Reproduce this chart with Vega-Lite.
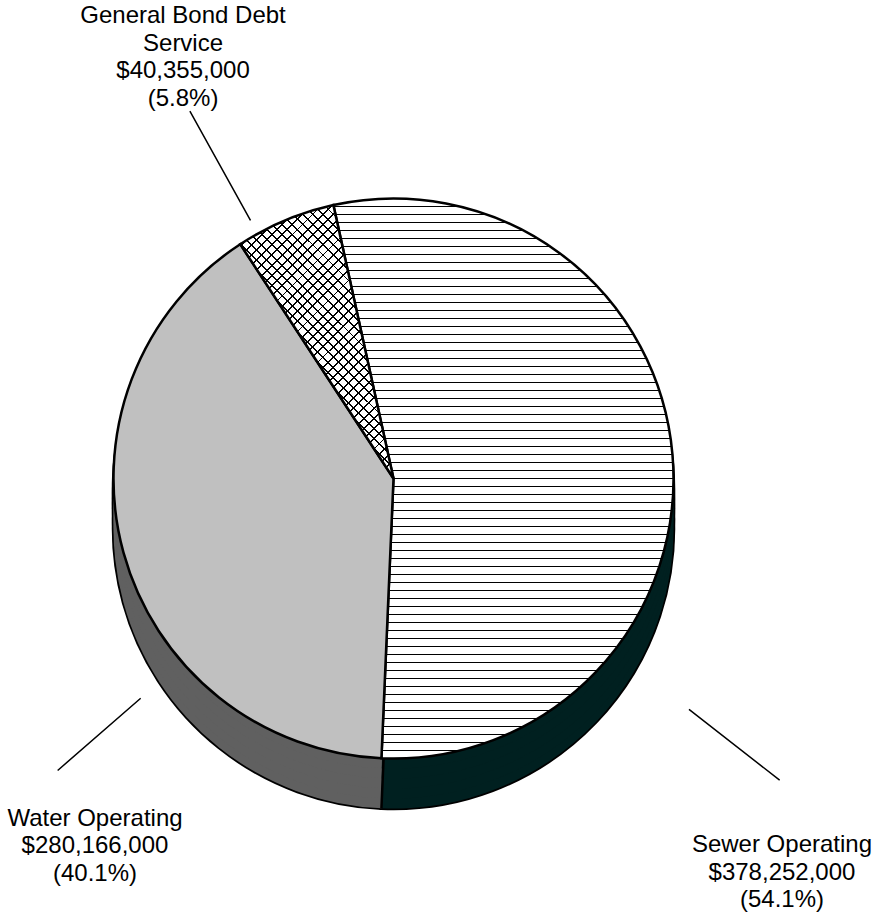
{
  "$schema": "https://vega.github.io/schema/vega-lite/v6.json",
  "autosize": {"type": "none"},
  "padding": {"left": 0, "top": 44, "right": 88, "bottom": 0},
  "width": 787,
  "height": 869,
  "background": "#ffffff",
  "config": {"view": {"stroke": null}},
  "data": {
    "values": [
      {"category": "Sewer Operating", "name": "Sewer Operating", "amount": 378252000, "order": 1},
      {"category": "Water Operating", "name": "Water Operating", "amount": 280166000, "order": 2},
      {"category": "General Bond Debt Service", "name": "General Bond Debt\nService", "amount": 40355000, "order": 3}
    ]
  },
  "transform": [
    {"joinaggregate": [{"op": "sum", "field": "amount", "as": "total"}]},
    {"stack": "amount", "groupby": [], "sort": [{"field": "order", "order": "ascending"}], "as": ["a0", "a1"]}
  ],
  "layer": [
    {
      "encoding": {
        "theta": {"field": "a0", "type": "quantitative", "stack": null, "scale": {"domain": [0, 698773000], "range": [-0.216421, 6.066764], "nice": false, "zero": false}},
        "theta2": {"field": "a1"}
      },
      "layer": [
        {"mark": {"type": "arc", "radius": 280, "yOffset": 50, "fill": "#000", "stroke": "#000", "strokeWidth": 3.5}},
        {"mark": {"type": "arc", "radius": 280, "yOffset": 40, "fill": "#000", "stroke": "#000", "strokeWidth": 3.5}},
        {"mark": {"type": "arc", "radius": 280, "yOffset": 30, "fill": "#000", "stroke": "#000", "strokeWidth": 3.5}},
        {"mark": {"type": "arc", "radius": 280, "yOffset": 20, "fill": "#000", "stroke": "#000", "strokeWidth": 3.5}},
        {"mark": {"type": "arc", "radius": 280, "yOffset": 10, "fill": "#000", "stroke": "#000", "strokeWidth": 3.5}},
        {"mark": {"type": "arc", "radius": 280, "yOffset": 50, "strokeWidth": 0},
         "encoding": {"fill": {"field": "category", "type": "nominal", "legend": null, "scale": {"domain": ["Sewer Operating", "Water Operating", "General Bond Debt Service"], "range": ["#002020", "#606060", "#808080"]}}}},
        {"mark": {"type": "arc", "radius": 280, "yOffset": 40, "strokeWidth": 0},
         "encoding": {"fill": {"field": "category", "type": "nominal", "legend": null}}},
        {"mark": {"type": "arc", "radius": 280, "yOffset": 30, "strokeWidth": 0},
         "encoding": {"fill": {"field": "category", "type": "nominal", "legend": null}}},
        {"mark": {"type": "arc", "radius": 280, "yOffset": 20, "strokeWidth": 0},
         "encoding": {"fill": {"field": "category", "type": "nominal", "legend": null}}},
        {"mark": {"type": "arc", "radius": 280, "yOffset": 10, "strokeWidth": 0},
         "encoding": {"fill": {"field": "category", "type": "nominal", "legend": null}}},
        {"transform": [{"filter": "datum.category === 'Water Operating'"}],
         "mark": {"type": "arc", "radius": 280, "radius2": 200, "yOffset": 50, "fill": null, "stroke": "#000", "strokeWidth": 2.5},
         "encoding": {"theta2": {"field": "a0"}}},
        {"transform": [{"filter": "datum.category === 'Sewer Operating'"}],
         "mark": {"type": "arc", "radius": 280, "stroke": "#000", "strokeWidth": 2.5,
           "fill": {"gradient": "linear", "x1": 0, "y1": 0, "x2": 0, "y2": 1, "stops": [
             {"offset": 0, "color": "#fff"},
             {"offset": 0.01329, "color": "#fff"}, {"offset": 0.01329, "color": "#000"}, {"offset": 0.01529, "color": "#000"}, {"offset": 0.01529, "color": "#fff"},
             {"offset": 0.02757, "color": "#fff"}, {"offset": 0.02757, "color": "#000"}, {"offset": 0.02957, "color": "#000"}, {"offset": 0.02957, "color": "#fff"},
             {"offset": 0.04186, "color": "#fff"}, {"offset": 0.04186, "color": "#000"}, {"offset": 0.04386, "color": "#000"}, {"offset": 0.04386, "color": "#fff"},
             {"offset": 0.05614, "color": "#fff"}, {"offset": 0.05614, "color": "#000"}, {"offset": 0.05814, "color": "#000"}, {"offset": 0.05814, "color": "#fff"},
             {"offset": 0.07043, "color": "#fff"}, {"offset": 0.07043, "color": "#000"}, {"offset": 0.07243, "color": "#000"}, {"offset": 0.07243, "color": "#fff"},
             {"offset": 0.08471, "color": "#fff"}, {"offset": 0.08471, "color": "#000"}, {"offset": 0.08671, "color": "#000"}, {"offset": 0.08671, "color": "#fff"},
             {"offset": 0.099, "color": "#fff"}, {"offset": 0.099, "color": "#000"}, {"offset": 0.101, "color": "#000"}, {"offset": 0.101, "color": "#fff"},
             {"offset": 0.11329, "color": "#fff"}, {"offset": 0.11329, "color": "#000"}, {"offset": 0.11529, "color": "#000"}, {"offset": 0.11529, "color": "#fff"},
             {"offset": 0.12757, "color": "#fff"}, {"offset": 0.12757, "color": "#000"}, {"offset": 0.12957, "color": "#000"}, {"offset": 0.12957, "color": "#fff"},
             {"offset": 0.14186, "color": "#fff"}, {"offset": 0.14186, "color": "#000"}, {"offset": 0.14386, "color": "#000"}, {"offset": 0.14386, "color": "#fff"},
             {"offset": 0.15614, "color": "#fff"}, {"offset": 0.15614, "color": "#000"}, {"offset": 0.15814, "color": "#000"}, {"offset": 0.15814, "color": "#fff"},
             {"offset": 0.17043, "color": "#fff"}, {"offset": 0.17043, "color": "#000"}, {"offset": 0.17243, "color": "#000"}, {"offset": 0.17243, "color": "#fff"},
             {"offset": 0.18471, "color": "#fff"}, {"offset": 0.18471, "color": "#000"}, {"offset": 0.18671, "color": "#000"}, {"offset": 0.18671, "color": "#fff"},
             {"offset": 0.199, "color": "#fff"}, {"offset": 0.199, "color": "#000"}, {"offset": 0.201, "color": "#000"}, {"offset": 0.201, "color": "#fff"},
             {"offset": 0.21329, "color": "#fff"}, {"offset": 0.21329, "color": "#000"}, {"offset": 0.21529, "color": "#000"}, {"offset": 0.21529, "color": "#fff"},
             {"offset": 0.22757, "color": "#fff"}, {"offset": 0.22757, "color": "#000"}, {"offset": 0.22957, "color": "#000"}, {"offset": 0.22957, "color": "#fff"},
             {"offset": 0.24186, "color": "#fff"}, {"offset": 0.24186, "color": "#000"}, {"offset": 0.24386, "color": "#000"}, {"offset": 0.24386, "color": "#fff"},
             {"offset": 0.25614, "color": "#fff"}, {"offset": 0.25614, "color": "#000"}, {"offset": 0.25814, "color": "#000"}, {"offset": 0.25814, "color": "#fff"},
             {"offset": 0.27043, "color": "#fff"}, {"offset": 0.27043, "color": "#000"}, {"offset": 0.27243, "color": "#000"}, {"offset": 0.27243, "color": "#fff"},
             {"offset": 0.28471, "color": "#fff"}, {"offset": 0.28471, "color": "#000"}, {"offset": 0.28671, "color": "#000"}, {"offset": 0.28671, "color": "#fff"},
             {"offset": 0.299, "color": "#fff"}, {"offset": 0.299, "color": "#000"}, {"offset": 0.301, "color": "#000"}, {"offset": 0.301, "color": "#fff"},
             {"offset": 0.31329, "color": "#fff"}, {"offset": 0.31329, "color": "#000"}, {"offset": 0.31529, "color": "#000"}, {"offset": 0.31529, "color": "#fff"},
             {"offset": 0.32757, "color": "#fff"}, {"offset": 0.32757, "color": "#000"}, {"offset": 0.32957, "color": "#000"}, {"offset": 0.32957, "color": "#fff"},
             {"offset": 0.34186, "color": "#fff"}, {"offset": 0.34186, "color": "#000"}, {"offset": 0.34386, "color": "#000"}, {"offset": 0.34386, "color": "#fff"},
             {"offset": 0.35614, "color": "#fff"}, {"offset": 0.35614, "color": "#000"}, {"offset": 0.35814, "color": "#000"}, {"offset": 0.35814, "color": "#fff"},
             {"offset": 0.37043, "color": "#fff"}, {"offset": 0.37043, "color": "#000"}, {"offset": 0.37243, "color": "#000"}, {"offset": 0.37243, "color": "#fff"},
             {"offset": 0.38471, "color": "#fff"}, {"offset": 0.38471, "color": "#000"}, {"offset": 0.38671, "color": "#000"}, {"offset": 0.38671, "color": "#fff"},
             {"offset": 0.399, "color": "#fff"}, {"offset": 0.399, "color": "#000"}, {"offset": 0.401, "color": "#000"}, {"offset": 0.401, "color": "#fff"},
             {"offset": 0.41329, "color": "#fff"}, {"offset": 0.41329, "color": "#000"}, {"offset": 0.41529, "color": "#000"}, {"offset": 0.41529, "color": "#fff"},
             {"offset": 0.42757, "color": "#fff"}, {"offset": 0.42757, "color": "#000"}, {"offset": 0.42957, "color": "#000"}, {"offset": 0.42957, "color": "#fff"},
             {"offset": 0.44186, "color": "#fff"}, {"offset": 0.44186, "color": "#000"}, {"offset": 0.44386, "color": "#000"}, {"offset": 0.44386, "color": "#fff"},
             {"offset": 0.45614, "color": "#fff"}, {"offset": 0.45614, "color": "#000"}, {"offset": 0.45814, "color": "#000"}, {"offset": 0.45814, "color": "#fff"},
             {"offset": 0.47043, "color": "#fff"}, {"offset": 0.47043, "color": "#000"}, {"offset": 0.47243, "color": "#000"}, {"offset": 0.47243, "color": "#fff"},
             {"offset": 0.48471, "color": "#fff"}, {"offset": 0.48471, "color": "#000"}, {"offset": 0.48671, "color": "#000"}, {"offset": 0.48671, "color": "#fff"},
             {"offset": 0.499, "color": "#fff"}, {"offset": 0.499, "color": "#000"}, {"offset": 0.501, "color": "#000"}, {"offset": 0.501, "color": "#fff"},
             {"offset": 0.51329, "color": "#fff"}, {"offset": 0.51329, "color": "#000"}, {"offset": 0.51529, "color": "#000"}, {"offset": 0.51529, "color": "#fff"},
             {"offset": 0.52757, "color": "#fff"}, {"offset": 0.52757, "color": "#000"}, {"offset": 0.52957, "color": "#000"}, {"offset": 0.52957, "color": "#fff"},
             {"offset": 0.54186, "color": "#fff"}, {"offset": 0.54186, "color": "#000"}, {"offset": 0.54386, "color": "#000"}, {"offset": 0.54386, "color": "#fff"},
             {"offset": 0.55614, "color": "#fff"}, {"offset": 0.55614, "color": "#000"}, {"offset": 0.55814, "color": "#000"}, {"offset": 0.55814, "color": "#fff"},
             {"offset": 0.57043, "color": "#fff"}, {"offset": 0.57043, "color": "#000"}, {"offset": 0.57243, "color": "#000"}, {"offset": 0.57243, "color": "#fff"},
             {"offset": 0.58471, "color": "#fff"}, {"offset": 0.58471, "color": "#000"}, {"offset": 0.58671, "color": "#000"}, {"offset": 0.58671, "color": "#fff"},
             {"offset": 0.599, "color": "#fff"}, {"offset": 0.599, "color": "#000"}, {"offset": 0.601, "color": "#000"}, {"offset": 0.601, "color": "#fff"},
             {"offset": 0.61329, "color": "#fff"}, {"offset": 0.61329, "color": "#000"}, {"offset": 0.61529, "color": "#000"}, {"offset": 0.61529, "color": "#fff"},
             {"offset": 0.62757, "color": "#fff"}, {"offset": 0.62757, "color": "#000"}, {"offset": 0.62957, "color": "#000"}, {"offset": 0.62957, "color": "#fff"},
             {"offset": 0.64186, "color": "#fff"}, {"offset": 0.64186, "color": "#000"}, {"offset": 0.64386, "color": "#000"}, {"offset": 0.64386, "color": "#fff"},
             {"offset": 0.65614, "color": "#fff"}, {"offset": 0.65614, "color": "#000"}, {"offset": 0.65814, "color": "#000"}, {"offset": 0.65814, "color": "#fff"},
             {"offset": 0.67043, "color": "#fff"}, {"offset": 0.67043, "color": "#000"}, {"offset": 0.67243, "color": "#000"}, {"offset": 0.67243, "color": "#fff"},
             {"offset": 0.68471, "color": "#fff"}, {"offset": 0.68471, "color": "#000"}, {"offset": 0.68671, "color": "#000"}, {"offset": 0.68671, "color": "#fff"},
             {"offset": 0.699, "color": "#fff"}, {"offset": 0.699, "color": "#000"}, {"offset": 0.701, "color": "#000"}, {"offset": 0.701, "color": "#fff"},
             {"offset": 0.71329, "color": "#fff"}, {"offset": 0.71329, "color": "#000"}, {"offset": 0.71529, "color": "#000"}, {"offset": 0.71529, "color": "#fff"},
             {"offset": 0.72757, "color": "#fff"}, {"offset": 0.72757, "color": "#000"}, {"offset": 0.72957, "color": "#000"}, {"offset": 0.72957, "color": "#fff"},
             {"offset": 0.74186, "color": "#fff"}, {"offset": 0.74186, "color": "#000"}, {"offset": 0.74386, "color": "#000"}, {"offset": 0.74386, "color": "#fff"},
             {"offset": 0.75614, "color": "#fff"}, {"offset": 0.75614, "color": "#000"}, {"offset": 0.75814, "color": "#000"}, {"offset": 0.75814, "color": "#fff"},
             {"offset": 0.77043, "color": "#fff"}, {"offset": 0.77043, "color": "#000"}, {"offset": 0.77243, "color": "#000"}, {"offset": 0.77243, "color": "#fff"},
             {"offset": 0.78471, "color": "#fff"}, {"offset": 0.78471, "color": "#000"}, {"offset": 0.78671, "color": "#000"}, {"offset": 0.78671, "color": "#fff"},
             {"offset": 0.799, "color": "#fff"}, {"offset": 0.799, "color": "#000"}, {"offset": 0.801, "color": "#000"}, {"offset": 0.801, "color": "#fff"},
             {"offset": 0.81329, "color": "#fff"}, {"offset": 0.81329, "color": "#000"}, {"offset": 0.81529, "color": "#000"}, {"offset": 0.81529, "color": "#fff"},
             {"offset": 0.82757, "color": "#fff"}, {"offset": 0.82757, "color": "#000"}, {"offset": 0.82957, "color": "#000"}, {"offset": 0.82957, "color": "#fff"},
             {"offset": 0.84186, "color": "#fff"}, {"offset": 0.84186, "color": "#000"}, {"offset": 0.84386, "color": "#000"}, {"offset": 0.84386, "color": "#fff"},
             {"offset": 0.85614, "color": "#fff"}, {"offset": 0.85614, "color": "#000"}, {"offset": 0.85814, "color": "#000"}, {"offset": 0.85814, "color": "#fff"},
             {"offset": 0.87043, "color": "#fff"}, {"offset": 0.87043, "color": "#000"}, {"offset": 0.87243, "color": "#000"}, {"offset": 0.87243, "color": "#fff"},
             {"offset": 0.88471, "color": "#fff"}, {"offset": 0.88471, "color": "#000"}, {"offset": 0.88671, "color": "#000"}, {"offset": 0.88671, "color": "#fff"},
             {"offset": 0.899, "color": "#fff"}, {"offset": 0.899, "color": "#000"}, {"offset": 0.901, "color": "#000"}, {"offset": 0.901, "color": "#fff"},
             {"offset": 0.91329, "color": "#fff"}, {"offset": 0.91329, "color": "#000"}, {"offset": 0.91529, "color": "#000"}, {"offset": 0.91529, "color": "#fff"},
             {"offset": 0.92757, "color": "#fff"}, {"offset": 0.92757, "color": "#000"}, {"offset": 0.92957, "color": "#000"}, {"offset": 0.92957, "color": "#fff"},
             {"offset": 0.94186, "color": "#fff"}, {"offset": 0.94186, "color": "#000"}, {"offset": 0.94386, "color": "#000"}, {"offset": 0.94386, "color": "#fff"},
             {"offset": 0.95614, "color": "#fff"}, {"offset": 0.95614, "color": "#000"}, {"offset": 0.95814, "color": "#000"}, {"offset": 0.95814, "color": "#fff"},
             {"offset": 0.97043, "color": "#fff"}, {"offset": 0.97043, "color": "#000"}, {"offset": 0.97243, "color": "#000"}, {"offset": 0.97243, "color": "#fff"},
             {"offset": 0.98471, "color": "#fff"}, {"offset": 0.98471, "color": "#000"}, {"offset": 0.98671, "color": "#000"}, {"offset": 0.98671, "color": "#fff"},
             {"offset": 1, "color": "#fff"}
           ]}}},
        {"transform": [{"filter": "datum.category === 'Water Operating'"}],
         "mark": {"type": "arc", "radius": 280, "fill": "#c0c0c0", "stroke": "#000", "strokeWidth": 2.5}},
        {"transform": [{"filter": "datum.category === 'General Bond Debt Service'"}],
         "mark": {"type": "arc", "radius": 280, "strokeWidth": 0,
           "fill": {"gradient": "linear", "x1": 0, "y1": 0, "x2": 0.7, "y2": 1.25, "stops": [
             {"offset": 0, "color": "#fff"},
             {"offset": 0.02063, "color": "#fff"}, {"offset": 0.02063, "color": "#000"}, {"offset": 0.02483, "color": "#000"}, {"offset": 0.02483, "color": "#fff"},
             {"offset": 0.04335, "color": "#fff"}, {"offset": 0.04335, "color": "#000"}, {"offset": 0.04755, "color": "#000"}, {"offset": 0.04755, "color": "#fff"},
             {"offset": 0.06608, "color": "#fff"}, {"offset": 0.06608, "color": "#000"}, {"offset": 0.07028, "color": "#000"}, {"offset": 0.07028, "color": "#fff"},
             {"offset": 0.08881, "color": "#fff"}, {"offset": 0.08881, "color": "#000"}, {"offset": 0.09301, "color": "#000"}, {"offset": 0.09301, "color": "#fff"},
             {"offset": 0.11154, "color": "#fff"}, {"offset": 0.11154, "color": "#000"}, {"offset": 0.11574, "color": "#000"}, {"offset": 0.11574, "color": "#fff"},
             {"offset": 0.13426, "color": "#fff"}, {"offset": 0.13426, "color": "#000"}, {"offset": 0.13846, "color": "#000"}, {"offset": 0.13846, "color": "#fff"},
             {"offset": 0.15699, "color": "#fff"}, {"offset": 0.15699, "color": "#000"}, {"offset": 0.16119, "color": "#000"}, {"offset": 0.16119, "color": "#fff"},
             {"offset": 0.17972, "color": "#fff"}, {"offset": 0.17972, "color": "#000"}, {"offset": 0.18392, "color": "#000"}, {"offset": 0.18392, "color": "#fff"},
             {"offset": 0.20245, "color": "#fff"}, {"offset": 0.20245, "color": "#000"}, {"offset": 0.20665, "color": "#000"}, {"offset": 0.20665, "color": "#fff"},
             {"offset": 0.22517, "color": "#fff"}, {"offset": 0.22517, "color": "#000"}, {"offset": 0.22937, "color": "#000"}, {"offset": 0.22937, "color": "#fff"},
             {"offset": 0.2479, "color": "#fff"}, {"offset": 0.2479, "color": "#000"}, {"offset": 0.2521, "color": "#000"}, {"offset": 0.2521, "color": "#fff"},
             {"offset": 0.27063, "color": "#fff"}, {"offset": 0.27063, "color": "#000"}, {"offset": 0.27483, "color": "#000"}, {"offset": 0.27483, "color": "#fff"},
             {"offset": 0.29335, "color": "#fff"}, {"offset": 0.29335, "color": "#000"}, {"offset": 0.29755, "color": "#000"}, {"offset": 0.29755, "color": "#fff"},
             {"offset": 0.31608, "color": "#fff"}, {"offset": 0.31608, "color": "#000"}, {"offset": 0.32028, "color": "#000"}, {"offset": 0.32028, "color": "#fff"},
             {"offset": 0.33881, "color": "#fff"}, {"offset": 0.33881, "color": "#000"}, {"offset": 0.34301, "color": "#000"}, {"offset": 0.34301, "color": "#fff"},
             {"offset": 0.36154, "color": "#fff"}, {"offset": 0.36154, "color": "#000"}, {"offset": 0.36574, "color": "#000"}, {"offset": 0.36574, "color": "#fff"},
             {"offset": 0.38426, "color": "#fff"}, {"offset": 0.38426, "color": "#000"}, {"offset": 0.38846, "color": "#000"}, {"offset": 0.38846, "color": "#fff"},
             {"offset": 0.40699, "color": "#fff"}, {"offset": 0.40699, "color": "#000"}, {"offset": 0.41119, "color": "#000"}, {"offset": 0.41119, "color": "#fff"},
             {"offset": 0.42972, "color": "#fff"}, {"offset": 0.42972, "color": "#000"}, {"offset": 0.43392, "color": "#000"}, {"offset": 0.43392, "color": "#fff"},
             {"offset": 0.45245, "color": "#fff"}, {"offset": 0.45245, "color": "#000"}, {"offset": 0.45665, "color": "#000"}, {"offset": 0.45665, "color": "#fff"},
             {"offset": 0.47517, "color": "#fff"}, {"offset": 0.47517, "color": "#000"}, {"offset": 0.47937, "color": "#000"}, {"offset": 0.47937, "color": "#fff"},
             {"offset": 0.4979, "color": "#fff"}, {"offset": 0.4979, "color": "#000"}, {"offset": 0.5021, "color": "#000"}, {"offset": 0.5021, "color": "#fff"},
             {"offset": 0.52063, "color": "#fff"}, {"offset": 0.52063, "color": "#000"}, {"offset": 0.52483, "color": "#000"}, {"offset": 0.52483, "color": "#fff"},
             {"offset": 0.54335, "color": "#fff"}, {"offset": 0.54335, "color": "#000"}, {"offset": 0.54755, "color": "#000"}, {"offset": 0.54755, "color": "#fff"},
             {"offset": 0.56608, "color": "#fff"}, {"offset": 0.56608, "color": "#000"}, {"offset": 0.57028, "color": "#000"}, {"offset": 0.57028, "color": "#fff"},
             {"offset": 0.58881, "color": "#fff"}, {"offset": 0.58881, "color": "#000"}, {"offset": 0.59301, "color": "#000"}, {"offset": 0.59301, "color": "#fff"},
             {"offset": 0.61154, "color": "#fff"}, {"offset": 0.61154, "color": "#000"}, {"offset": 0.61574, "color": "#000"}, {"offset": 0.61574, "color": "#fff"},
             {"offset": 0.63426, "color": "#fff"}, {"offset": 0.63426, "color": "#000"}, {"offset": 0.63846, "color": "#000"}, {"offset": 0.63846, "color": "#fff"},
             {"offset": 0.65699, "color": "#fff"}, {"offset": 0.65699, "color": "#000"}, {"offset": 0.66119, "color": "#000"}, {"offset": 0.66119, "color": "#fff"},
             {"offset": 0.67972, "color": "#fff"}, {"offset": 0.67972, "color": "#000"}, {"offset": 0.68392, "color": "#000"}, {"offset": 0.68392, "color": "#fff"},
             {"offset": 0.70245, "color": "#fff"}, {"offset": 0.70245, "color": "#000"}, {"offset": 0.70665, "color": "#000"}, {"offset": 0.70665, "color": "#fff"},
             {"offset": 0.72517, "color": "#fff"}, {"offset": 0.72517, "color": "#000"}, {"offset": 0.72937, "color": "#000"}, {"offset": 0.72937, "color": "#fff"},
             {"offset": 0.7479, "color": "#fff"}, {"offset": 0.7479, "color": "#000"}, {"offset": 0.7521, "color": "#000"}, {"offset": 0.7521, "color": "#fff"},
             {"offset": 0.77063, "color": "#fff"}, {"offset": 0.77063, "color": "#000"}, {"offset": 0.77483, "color": "#000"}, {"offset": 0.77483, "color": "#fff"},
             {"offset": 0.79335, "color": "#fff"}, {"offset": 0.79335, "color": "#000"}, {"offset": 0.79755, "color": "#000"}, {"offset": 0.79755, "color": "#fff"},
             {"offset": 0.81608, "color": "#fff"}, {"offset": 0.81608, "color": "#000"}, {"offset": 0.82028, "color": "#000"}, {"offset": 0.82028, "color": "#fff"},
             {"offset": 0.83881, "color": "#fff"}, {"offset": 0.83881, "color": "#000"}, {"offset": 0.84301, "color": "#000"}, {"offset": 0.84301, "color": "#fff"},
             {"offset": 0.86154, "color": "#fff"}, {"offset": 0.86154, "color": "#000"}, {"offset": 0.86574, "color": "#000"}, {"offset": 0.86574, "color": "#fff"},
             {"offset": 0.88426, "color": "#fff"}, {"offset": 0.88426, "color": "#000"}, {"offset": 0.88846, "color": "#000"}, {"offset": 0.88846, "color": "#fff"},
             {"offset": 0.90699, "color": "#fff"}, {"offset": 0.90699, "color": "#000"}, {"offset": 0.91119, "color": "#000"}, {"offset": 0.91119, "color": "#fff"},
             {"offset": 0.92972, "color": "#fff"}, {"offset": 0.92972, "color": "#000"}, {"offset": 0.93392, "color": "#000"}, {"offset": 0.93392, "color": "#fff"},
             {"offset": 0.95245, "color": "#fff"}, {"offset": 0.95245, "color": "#000"}, {"offset": 0.95665, "color": "#000"}, {"offset": 0.95665, "color": "#fff"},
             {"offset": 0.97517, "color": "#fff"}, {"offset": 0.97517, "color": "#000"}, {"offset": 0.97937, "color": "#000"}, {"offset": 0.97937, "color": "#fff"},
             {"offset": 1, "color": "#fff"}
           ]}}},
        {"transform": [{"filter": "datum.category === 'General Bond Debt Service'"}],
         "mark": {"type": "arc", "radius": 280, "stroke": "#000", "strokeWidth": 2.5,
           "fill": {"gradient": "linear", "x1": 0, "y1": 1, "x2": 0.7, "y2": -0.25, "stops": [
             {"offset": 0, "color": "rgba(255,255,255,0)"},
             {"offset": 0.02063, "color": "rgba(255,255,255,0)"}, {"offset": 0.02063, "color": "#000"}, {"offset": 0.02483, "color": "#000"}, {"offset": 0.02483, "color": "rgba(255,255,255,0)"},
             {"offset": 0.04335, "color": "rgba(255,255,255,0)"}, {"offset": 0.04335, "color": "#000"}, {"offset": 0.04755, "color": "#000"}, {"offset": 0.04755, "color": "rgba(255,255,255,0)"},
             {"offset": 0.06608, "color": "rgba(255,255,255,0)"}, {"offset": 0.06608, "color": "#000"}, {"offset": 0.07028, "color": "#000"}, {"offset": 0.07028, "color": "rgba(255,255,255,0)"},
             {"offset": 0.08881, "color": "rgba(255,255,255,0)"}, {"offset": 0.08881, "color": "#000"}, {"offset": 0.09301, "color": "#000"}, {"offset": 0.09301, "color": "rgba(255,255,255,0)"},
             {"offset": 0.11154, "color": "rgba(255,255,255,0)"}, {"offset": 0.11154, "color": "#000"}, {"offset": 0.11574, "color": "#000"}, {"offset": 0.11574, "color": "rgba(255,255,255,0)"},
             {"offset": 0.13426, "color": "rgba(255,255,255,0)"}, {"offset": 0.13426, "color": "#000"}, {"offset": 0.13846, "color": "#000"}, {"offset": 0.13846, "color": "rgba(255,255,255,0)"},
             {"offset": 0.15699, "color": "rgba(255,255,255,0)"}, {"offset": 0.15699, "color": "#000"}, {"offset": 0.16119, "color": "#000"}, {"offset": 0.16119, "color": "rgba(255,255,255,0)"},
             {"offset": 0.17972, "color": "rgba(255,255,255,0)"}, {"offset": 0.17972, "color": "#000"}, {"offset": 0.18392, "color": "#000"}, {"offset": 0.18392, "color": "rgba(255,255,255,0)"},
             {"offset": 0.20245, "color": "rgba(255,255,255,0)"}, {"offset": 0.20245, "color": "#000"}, {"offset": 0.20665, "color": "#000"}, {"offset": 0.20665, "color": "rgba(255,255,255,0)"},
             {"offset": 0.22517, "color": "rgba(255,255,255,0)"}, {"offset": 0.22517, "color": "#000"}, {"offset": 0.22937, "color": "#000"}, {"offset": 0.22937, "color": "rgba(255,255,255,0)"},
             {"offset": 0.2479, "color": "rgba(255,255,255,0)"}, {"offset": 0.2479, "color": "#000"}, {"offset": 0.2521, "color": "#000"}, {"offset": 0.2521, "color": "rgba(255,255,255,0)"},
             {"offset": 0.27063, "color": "rgba(255,255,255,0)"}, {"offset": 0.27063, "color": "#000"}, {"offset": 0.27483, "color": "#000"}, {"offset": 0.27483, "color": "rgba(255,255,255,0)"},
             {"offset": 0.29335, "color": "rgba(255,255,255,0)"}, {"offset": 0.29335, "color": "#000"}, {"offset": 0.29755, "color": "#000"}, {"offset": 0.29755, "color": "rgba(255,255,255,0)"},
             {"offset": 0.31608, "color": "rgba(255,255,255,0)"}, {"offset": 0.31608, "color": "#000"}, {"offset": 0.32028, "color": "#000"}, {"offset": 0.32028, "color": "rgba(255,255,255,0)"},
             {"offset": 0.33881, "color": "rgba(255,255,255,0)"}, {"offset": 0.33881, "color": "#000"}, {"offset": 0.34301, "color": "#000"}, {"offset": 0.34301, "color": "rgba(255,255,255,0)"},
             {"offset": 0.36154, "color": "rgba(255,255,255,0)"}, {"offset": 0.36154, "color": "#000"}, {"offset": 0.36574, "color": "#000"}, {"offset": 0.36574, "color": "rgba(255,255,255,0)"},
             {"offset": 0.38426, "color": "rgba(255,255,255,0)"}, {"offset": 0.38426, "color": "#000"}, {"offset": 0.38846, "color": "#000"}, {"offset": 0.38846, "color": "rgba(255,255,255,0)"},
             {"offset": 0.40699, "color": "rgba(255,255,255,0)"}, {"offset": 0.40699, "color": "#000"}, {"offset": 0.41119, "color": "#000"}, {"offset": 0.41119, "color": "rgba(255,255,255,0)"},
             {"offset": 0.42972, "color": "rgba(255,255,255,0)"}, {"offset": 0.42972, "color": "#000"}, {"offset": 0.43392, "color": "#000"}, {"offset": 0.43392, "color": "rgba(255,255,255,0)"},
             {"offset": 0.45245, "color": "rgba(255,255,255,0)"}, {"offset": 0.45245, "color": "#000"}, {"offset": 0.45665, "color": "#000"}, {"offset": 0.45665, "color": "rgba(255,255,255,0)"},
             {"offset": 0.47517, "color": "rgba(255,255,255,0)"}, {"offset": 0.47517, "color": "#000"}, {"offset": 0.47937, "color": "#000"}, {"offset": 0.47937, "color": "rgba(255,255,255,0)"},
             {"offset": 0.4979, "color": "rgba(255,255,255,0)"}, {"offset": 0.4979, "color": "#000"}, {"offset": 0.5021, "color": "#000"}, {"offset": 0.5021, "color": "rgba(255,255,255,0)"},
             {"offset": 0.52063, "color": "rgba(255,255,255,0)"}, {"offset": 0.52063, "color": "#000"}, {"offset": 0.52483, "color": "#000"}, {"offset": 0.52483, "color": "rgba(255,255,255,0)"},
             {"offset": 0.54335, "color": "rgba(255,255,255,0)"}, {"offset": 0.54335, "color": "#000"}, {"offset": 0.54755, "color": "#000"}, {"offset": 0.54755, "color": "rgba(255,255,255,0)"},
             {"offset": 0.56608, "color": "rgba(255,255,255,0)"}, {"offset": 0.56608, "color": "#000"}, {"offset": 0.57028, "color": "#000"}, {"offset": 0.57028, "color": "rgba(255,255,255,0)"},
             {"offset": 0.58881, "color": "rgba(255,255,255,0)"}, {"offset": 0.58881, "color": "#000"}, {"offset": 0.59301, "color": "#000"}, {"offset": 0.59301, "color": "rgba(255,255,255,0)"},
             {"offset": 0.61154, "color": "rgba(255,255,255,0)"}, {"offset": 0.61154, "color": "#000"}, {"offset": 0.61574, "color": "#000"}, {"offset": 0.61574, "color": "rgba(255,255,255,0)"},
             {"offset": 0.63426, "color": "rgba(255,255,255,0)"}, {"offset": 0.63426, "color": "#000"}, {"offset": 0.63846, "color": "#000"}, {"offset": 0.63846, "color": "rgba(255,255,255,0)"},
             {"offset": 0.65699, "color": "rgba(255,255,255,0)"}, {"offset": 0.65699, "color": "#000"}, {"offset": 0.66119, "color": "#000"}, {"offset": 0.66119, "color": "rgba(255,255,255,0)"},
             {"offset": 0.67972, "color": "rgba(255,255,255,0)"}, {"offset": 0.67972, "color": "#000"}, {"offset": 0.68392, "color": "#000"}, {"offset": 0.68392, "color": "rgba(255,255,255,0)"},
             {"offset": 0.70245, "color": "rgba(255,255,255,0)"}, {"offset": 0.70245, "color": "#000"}, {"offset": 0.70665, "color": "#000"}, {"offset": 0.70665, "color": "rgba(255,255,255,0)"},
             {"offset": 0.72517, "color": "rgba(255,255,255,0)"}, {"offset": 0.72517, "color": "#000"}, {"offset": 0.72937, "color": "#000"}, {"offset": 0.72937, "color": "rgba(255,255,255,0)"},
             {"offset": 0.7479, "color": "rgba(255,255,255,0)"}, {"offset": 0.7479, "color": "#000"}, {"offset": 0.7521, "color": "#000"}, {"offset": 0.7521, "color": "rgba(255,255,255,0)"},
             {"offset": 0.77063, "color": "rgba(255,255,255,0)"}, {"offset": 0.77063, "color": "#000"}, {"offset": 0.77483, "color": "#000"}, {"offset": 0.77483, "color": "rgba(255,255,255,0)"},
             {"offset": 0.79335, "color": "rgba(255,255,255,0)"}, {"offset": 0.79335, "color": "#000"}, {"offset": 0.79755, "color": "#000"}, {"offset": 0.79755, "color": "rgba(255,255,255,0)"},
             {"offset": 0.81608, "color": "rgba(255,255,255,0)"}, {"offset": 0.81608, "color": "#000"}, {"offset": 0.82028, "color": "#000"}, {"offset": 0.82028, "color": "rgba(255,255,255,0)"},
             {"offset": 0.83881, "color": "rgba(255,255,255,0)"}, {"offset": 0.83881, "color": "#000"}, {"offset": 0.84301, "color": "#000"}, {"offset": 0.84301, "color": "rgba(255,255,255,0)"},
             {"offset": 0.86154, "color": "rgba(255,255,255,0)"}, {"offset": 0.86154, "color": "#000"}, {"offset": 0.86574, "color": "#000"}, {"offset": 0.86574, "color": "rgba(255,255,255,0)"},
             {"offset": 0.88426, "color": "rgba(255,255,255,0)"}, {"offset": 0.88426, "color": "#000"}, {"offset": 0.88846, "color": "#000"}, {"offset": 0.88846, "color": "rgba(255,255,255,0)"},
             {"offset": 0.90699, "color": "rgba(255,255,255,0)"}, {"offset": 0.90699, "color": "#000"}, {"offset": 0.91119, "color": "#000"}, {"offset": 0.91119, "color": "rgba(255,255,255,0)"},
             {"offset": 0.92972, "color": "rgba(255,255,255,0)"}, {"offset": 0.92972, "color": "#000"}, {"offset": 0.93392, "color": "#000"}, {"offset": 0.93392, "color": "rgba(255,255,255,0)"},
             {"offset": 0.95245, "color": "rgba(255,255,255,0)"}, {"offset": 0.95245, "color": "#000"}, {"offset": 0.95665, "color": "#000"}, {"offset": 0.95665, "color": "rgba(255,255,255,0)"},
             {"offset": 0.97517, "color": "rgba(255,255,255,0)"}, {"offset": 0.97517, "color": "#000"}, {"offset": 0.97937, "color": "#000"}, {"offset": 0.97937, "color": "rgba(255,255,255,0)"},
             {"offset": 1, "color": "rgba(255,255,255,0)"}
           ]}}}
      ]
    },
    {
      "layer": [
        {"transform": [{"filter": "datum.category === 'General Bond Debt Service'"}],
         "mark": {"type": "arc", "radius": 420, "radius2": 295, "fill": null, "stroke": "#000", "strokeWidth": 1.5},
         "encoding": {
           "theta": {"datum": 666552000, "type": "quantitative", "scale": {"domain": [0, 698773000], "range": [-0.216421, 6.066764], "nice": false, "zero": false}},
           "theta2": {"datum": 666552000}}},
        {"transform": [{"filter": "datum.category === 'Water Operating'"}],
         "mark": {"type": "arc", "radius": 445, "radius2": 335, "fill": null, "stroke": "#000", "strokeWidth": 1.5},
         "encoding": {
           "theta": {"datum": 468566000, "type": "quantitative"},
           "theta2": {"datum": 468566000}}},
        {"transform": [{"filter": "datum.category === 'Sewer Operating'"}],
         "mark": {"type": "arc", "radius": 490, "radius2": 375, "fill": null, "stroke": "#000", "strokeWidth": 1.5},
         "encoding": {
           "theta": {"datum": 272521000, "type": "quantitative"},
           "theta2": {"datum": 272521000}}},
        {"transform": [{"filter": "datum.category === 'General Bond Debt Service'"}],
         "mark": {"type": "text", "radius": 507.7, "font": "Liberation Sans", "fontSize": 24, "lineHeight": 27.5, "align": "center", "baseline": "middle", "lineBreak": "\n", "color": "#000",
           "text": {"expr": "datum.name + '\\n' + format(datum.amount, '$,.0f') + '\\n(' + format(datum.amount / datum.total, '.1%') + ')'"}},
         "encoding": {"theta": {"datum": 675306000, "type": "quantitative"}}},
        {"transform": [{"filter": "datum.category === 'Water Operating'"}],
         "mark": {"type": "text", "radius": 452.8, "font": "Liberation Sans", "fontSize": 24, "lineHeight": 27.5, "align": "center", "baseline": "middle", "lineBreak": "\n", "color": "#000",
           "text": {"expr": "datum.name + '\\n' + format(datum.amount, '$,.0f') + '\\n(' + format(datum.amount / datum.total, '.1%') + ')'"}},
         "encoding": {"theta": {"datum": 453504000, "type": "quantitative"}}},
        {"transform": [{"filter": "datum.category === 'Sewer Operating'"}],
         "mark": {"type": "text", "radius": 534.4, "font": "Liberation Sans", "fontSize": 24, "lineHeight": 27.5, "align": "center", "baseline": "middle", "lineBreak": "\n", "color": "#000",
           "text": {"expr": "datum.name + '\\n' + format(datum.amount, '$,.0f') + '\\n(' + format(datum.amount / datum.total, '.1%') + ')'"}},
         "encoding": {"theta": {"datum": 282945000, "type": "quantitative"}}}
      ]
    }
  ]
}
